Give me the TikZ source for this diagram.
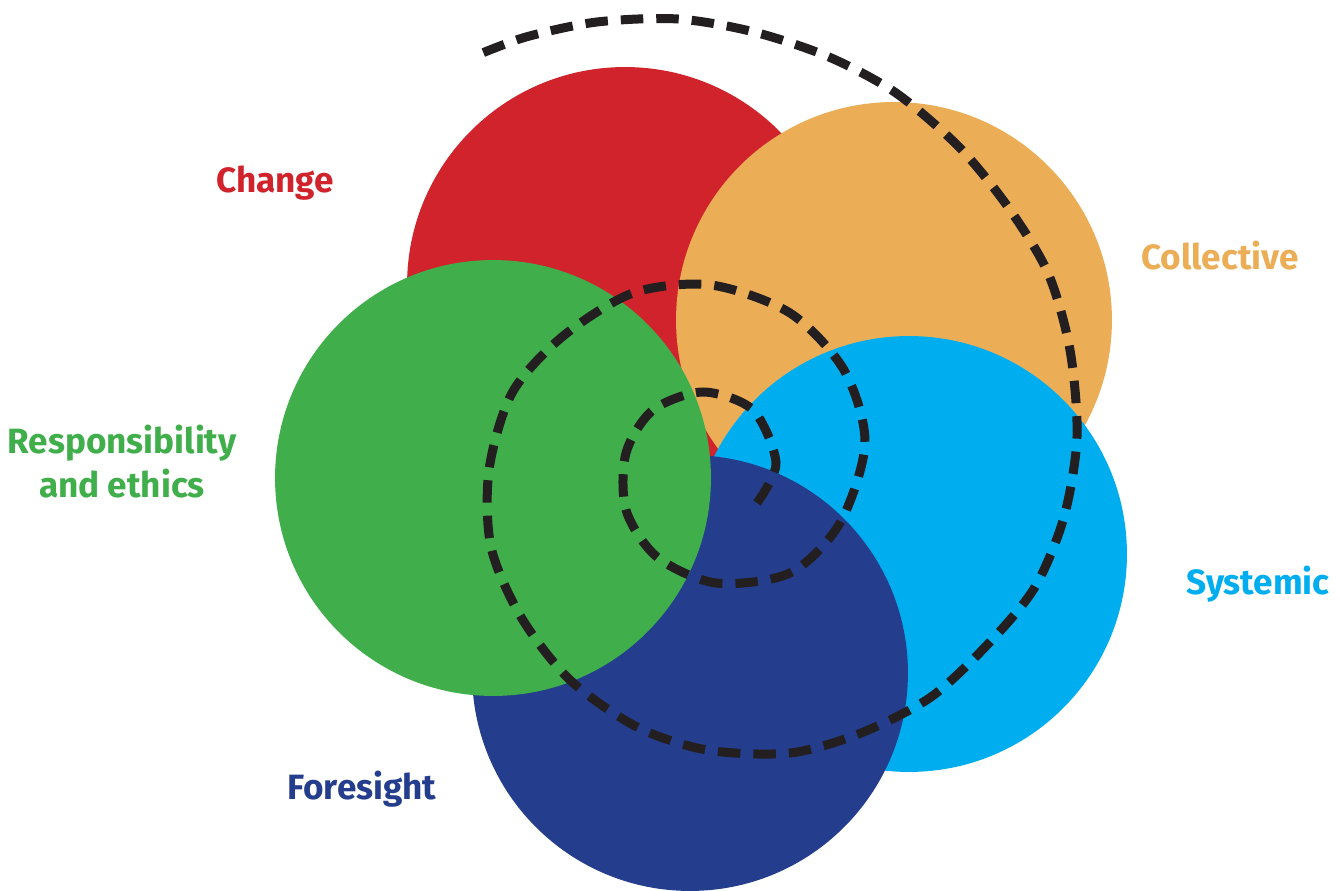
\documentclass[tikz,border=0pt]{standalone}
\usepackage{fontspec}
\setmainfont{Fira Sans}

\definecolor{changered}{HTML}{D0232B}
\definecolor{collorange}{HTML}{EBAE57}
\definecolor{sysblue}{HTML}{00AEEF}
\definecolor{forenavy}{HTML}{243E8D}
\definecolor{respgreen}{HTML}{40AE4B}
\definecolor{spiralink}{HTML}{231F20}

\begin{document}
\begin{tikzpicture}[x=0.02cm, y=-0.02cm,
  disc/.style={circle, inner sep=0pt, minimum size=8.72cm},
  lbl/.style={font=\fontsize{20}{25}\selectfont\bfseries, align=center},
  spiralline/.style={draw=spiralink, line width=0.18cm, dash pattern=on 0.45cm off 0.26cm}]
  \useasboundingbox (0,0) rectangle (1340,891);

  % the five circles, back to front
  \node[disc, fill=changered] (change) at (625,285) {};
  \node[disc, fill=collorange] (collective) at (894,320) {};
  \node[disc, fill=sysblue] (systemic) at (909,554) {};
  \node[disc, fill=forenavy] (foresight) at (690,673) {};
  \node[disc, fill=respgreen] (responsibility) at (493,478) {};

  % dashed spiral, from the inside out
  \draw[spiralline] plot[smooth] coordinates {
    (757,503) (776,463) (753,410) (703,392) (653,410) (626,453) (626,510)
    (657,557) (716,583) (790,573) (840,523) (865,443) (844,370) (790,313)
    (711,285) (633,293) (562,337) (512,393) (489,470) (491,547) (521,617)
    (570,680) (637,727) (707,750) (790,753) (861,733) (931,697) (989,643)
    (1035,587) (1064,517) (1077,437) (1070,350) (1048,273) (1008,207)
    (959,147) (896,93) (829,57) (754,32) (678,19) (597,22) (526,37) (475,56)};

  % labels
  \node[lbl, text=changered] (changelbl) at (275,183) {Change};
  \node[lbl, text=collorange] (collectivelbl) at (1220,256) {Collective};
  \node[lbl, text=respgreen] (responsibilitylbl) at (122,462) {Responsibility\\and ethics};
  \node[lbl, text=sysblue] (systemiclbl) at (1258,584) {Systemic};
  \node[lbl, text=forenavy] (foresightlbl) at (362,789) {Foresight};
\end{tikzpicture}
\end{document}
